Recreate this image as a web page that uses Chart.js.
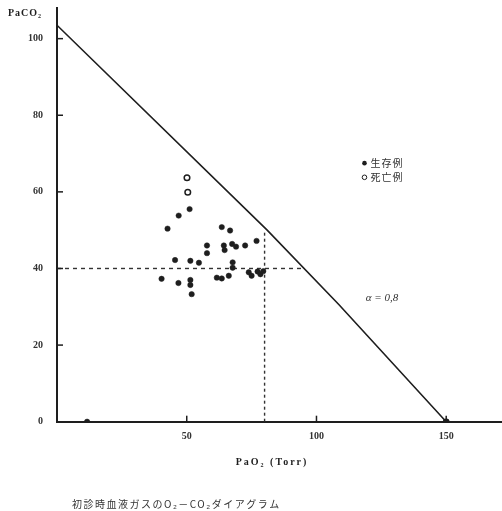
<!DOCTYPE html>
<html>
<head>
<meta charset="utf-8">
<script src="https://cdn.jsdelivr.net/npm/chart.js@4.4.1/dist/chart.umd.min.js"></script>
<style>
  html, body { margin: 0; padding: 0; background: #fff; }
  #wrap { width: 502px; height: 511px; }
</style>
</head>
<body>
<div id="wrap"><canvas id="grafico"></canvas></div>
<script>
// datos
const xTicks = [50, 100, 150];
const yTicks = [0, 20, 40, 60, 80, 100];

const survivorsX = [51.1, 46.9, 42.6, 63.5, 66.7, 57.8, 57.8, 64.3, 64.6, 67.5, 69.0, 72.5, 76.9,
  45.5, 51.4, 54.7, 67.7, 67.7, 40.3, 46.8, 51.4, 51.4, 51.9, 61.6, 63.5, 66.2, 73.9, 75.0, 77.3, 78.4, 79.5, 11.6];
const survivorsY = [55.5, 53.8, 50.4, 50.8, 49.9, 46.0, 44.0, 46.0, 44.8, 46.4, 45.7, 46.0, 47.2,
  42.2, 42.0, 41.5, 41.6, 40.2, 37.3, 36.2, 37.0, 35.7, 33.3, 37.6, 37.4, 38.1, 39.0, 38.1, 39.2, 38.5, 39.3, 0];

const deathsX = [50.1, 50.4];
const deathsY = [63.7, 59.9];

// recta alfa = 0,8 (algo curvada en el original)
const alphaX = [0, 81, 108.6, 150];
const alphaY = [103.5, 50, 30.6, 0];

const co2LineX = [0, 95];
const co2LineY = [40, 40];
const o2LineX = [80, 80];
const o2LineY = [0, 50];

const legendLabels = ['生存例', '死亡例'];
const caption = '初診時血液ガスのO₂－CO₂ダイアグラム';

function toPoints(xs, ys) {
  return xs.map((x, i) => ({ x: x, y: ys[i] }));
}

const ink = '#1e1e1e';
const serif = '"Liberation Serif", "DejaVu Serif", serif';

const extras = {
  id: 'extras',
  afterDraw(chart) {
    const ctx = chart.ctx;
    const xs = chart.scales.x;
    const ys = chart.scales.y;
    const area = chart.chartArea;

    ctx.save();
    // marcas hacia adentro
    ctx.strokeStyle = ink;
    ctx.lineWidth = 1.5;
    yTicks.slice(1).forEach(v => {
      const py = ys.getPixelForValue(v);
      ctx.beginPath();
      ctx.moveTo(area.left, py);
      ctx.lineTo(area.left + 6, py);
      ctx.stroke();
    });
    xTicks.forEach(v => {
      const px = xs.getPixelForValue(v);
      ctx.beginPath();
      ctx.moveTo(px, area.bottom);
      ctx.lineTo(px, area.bottom - 6);
      ctx.stroke();
    });

    // titulos de ejes
    ctx.fillStyle = ink;
    ctx.font = 'bold 10px ' + serif;
    ctx.textBaseline = 'middle';
    ctx.textAlign = 'left';
    ctx.letterSpacing = '1px';
    ctx.fillText('PaCO₂', 8, 13);
    ctx.textAlign = 'center';
    ctx.letterSpacing = '2px';
    ctx.fillText('PaO₂ (Torr)', 272, 462);

    // leyenda
    ctx.letterSpacing = '1px';
    const lx = xs.getPixelForValue(118.5);
    const ly1 = ys.getPixelForValue(67.5);
    const ly2 = ys.getPixelForValue(63.8);
    ctx.beginPath();
    ctx.arc(lx, ly1, 2.3, 0, Math.PI * 2);
    ctx.fill();
    ctx.beginPath();
    ctx.lineWidth = 1;
    ctx.arc(lx, ly2, 2.3, 0, Math.PI * 2);
    ctx.stroke();
    ctx.font = '10px "Noto Sans CJK JP", sans-serif';
    ctx.fillStyle = '#333';
    ctx.textAlign = 'left';
    ctx.fillText(legendLabels[0], lx + 6, ly1);
    ctx.fillText(legendLabels[1], lx + 6, ly2);

    // alfa
    ctx.letterSpacing = '0px';
    ctx.font = 'italic 11px ' + serif;
    ctx.fillText('α = 0,8', xs.getPixelForValue(119), ys.getPixelForValue(32.3));

    // pie de figura
    ctx.letterSpacing = '1.5px';
    ctx.font = '10px "Noto Sans CJK JP", sans-serif';
    ctx.fillText(caption, 72, 504);
    ctx.restore();
  }
};

const tickFont = { family: serif, size: 10, weight: 'bold' };

new Chart(document.getElementById('grafico'), {
  type: 'scatter',
  data: {
    datasets: [
      {
        label: legendLabels[0],
        data: toPoints(survivorsX, survivorsY),
        backgroundColor: ink,
        borderColor: ink,
        pointRadius: 2.7,
        borderWidth: 0.5
      },
      {
        label: legendLabels[1],
        data: toPoints(deathsX, deathsY),
        backgroundColor: '#fff',
        borderColor: ink,
        pointRadius: 2.8,
        borderWidth: 1.5
      },
      {
        label: 'alpha',
        data: toPoints(alphaX, alphaY),
        showLine: true,
        borderColor: ink,
        borderWidth: 1.6,
        backgroundColor: ink,
        pointRadius: [0, 0, 0, 2.5],
        tension: 0
      },
      {
        label: 'co2',
        data: toPoints(co2LineX, co2LineY),
        showLine: true,
        borderColor: '#333',
        borderWidth: 1.4,
        borderDash: [4, 4],
        pointRadius: 0
      },
      {
        label: 'o2',
        data: toPoints(o2LineX, o2LineY),
        showLine: true,
        borderColor: '#333',
        borderWidth: 1.4,
        borderDash: [3, 3],
        pointRadius: 0
      }
    ]
  },
  options: {
    responsive: true,
    maintainAspectRatio: false,
    animation: false,
    layout: { autoPadding: false, padding: { top: 8, right: 0, left: 0, bottom: 0 } },
    plugins: {
      legend: { display: false },
      tooltip: { enabled: false }
    },
    scales: {
      x: {
        type: 'linear',
        min: 0,
        max: 171.5,
        afterBuildTicks: s => { s.ticks = xTicks.map(v => ({ value: v })); },
        afterFit: s => { s.height = 89.3; s.paddingLeft = 0; s.paddingRight = 0; },
        grid: { display: false, drawTicks: false },
        border: { display: true, color: ink, width: 2 },
        ticks: { color: '#333', font: tickFont, padding: 9, maxRotation: 0 }
      },
      y: {
        type: 'linear',
        min: 0,
        max: 108,
        afterBuildTicks: s => { s.ticks = yTicks.map(v => ({ value: v })); },
        afterFit: s => { s.width = 57; s.paddingTop = 0; s.paddingBottom = 0; },
        grid: { display: false, drawTicks: false },
        border: { display: true, color: ink, width: 2 },
        ticks: { color: '#333', font: tickFont, padding: 14 }
      }
    }
  },
  plugins: [extras]
});
</script>
</body>
</html>
